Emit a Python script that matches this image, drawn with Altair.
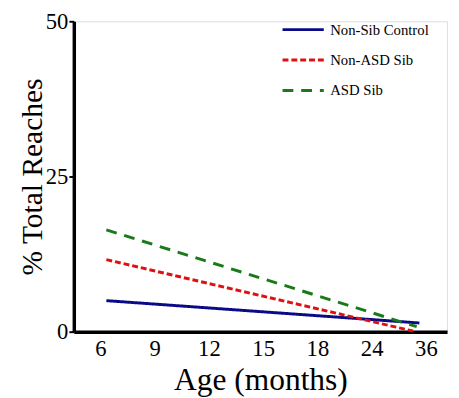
import json
import altair as alt
import pandas as pd

tick_labels = ["6", "9", "12", "15", "18", "24", "36"]
tick_pos = [0, 1, 2, 3, 4, 5, 6]
groups = ["Non-Sib Control", "Non-ASD Sib", "ASD Sib"]
x_start = [0.11, 0.11, 0.11]
x_end = [5.88, 5.76, 5.83]
y_start = [5.0, 11.6, 16.4]
y_end = [1.4, 0.1, 0.8]
colors = ["#0a0a86", "#e01010", "#1a7a1a"]
dashes = [[1, 0], [6, 3], [11, 8]]

rows = []
for g, xs, xe, ys, ye in zip(groups, x_start, x_end, y_start, y_end):
    rows.append({"group": g, "x": xs, "y": ys})
    rows.append({"group": g, "x": xe, "y": ye})
df = pd.DataFrame(rows)

label_expr = json.dumps(tick_labels) + "[round(datum.value)]"
FONT = "Liberation Serif"

legend_opts = dict(title=None, orient="none", legendX=211, legendY=-14,
                   symbolType="stroke", symbolSize=1764, symbolStrokeWidth=3,
                   labelFont=FONT, labelFontSize=15, labelFontWeight="normal",
                   labelColor="black", rowPadding=-10, padding=0, labelOffset=5)

chart = alt.Chart(df).mark_line(strokeWidth=3).encode(
    x=alt.X("x:Q",
            scale=alt.Scale(domain=[-0.49, 6.39], nice=False, zero=False),
            axis=alt.Axis(title="Age (months)", values=tick_pos, labelExpr=label_expr,
                          ticks=False, grid=False, domainWidth=3.5, domainColor="black",
                          labelFont=FONT, labelFontSize=23, labelColor="black",
                          labelPadding=6, titleFont=FONT, titleFontSize=32,
                          titleFontWeight="normal", titleColor="black", titlePadding=5)),
    y=alt.Y("y:Q",
            scale=alt.Scale(domain=[0, 50], nice=False),
            axis=alt.Axis(title="% Total Reaches", values=[0, 25, 50], grid=False,
                          domainWidth=3.5, domainColor="black", tickWidth=2, tickColor="black",
                          tickSize=5, labelFont=FONT, labelFontSize=23, labelColor="black",
                          labelPadding=1, titleFont=FONT, titleFontSize=30,
                          titleFontWeight="normal", titleColor="black", titlePadding=-2)),
    color=alt.Color("group:N", scale=alt.Scale(domain=groups, range=colors),
                    legend=alt.Legend(**legend_opts)),
    strokeDash=alt.StrokeDash("group:N", scale=alt.Scale(domain=groups, range=dashes),
                              legend=alt.Legend(**legend_opts)),
    detail="group:N",
).properties(
    width=380, height=316,
    autosize=alt.AutoSizeParams(type="none"),
    padding={"left": 67, "top": 10, "right": 4, "bottom": 64},
).configure_view(stroke=None).configure(background="white")

chart.save("out.html", embed_options={"renderer": "svg", "actions": False})
